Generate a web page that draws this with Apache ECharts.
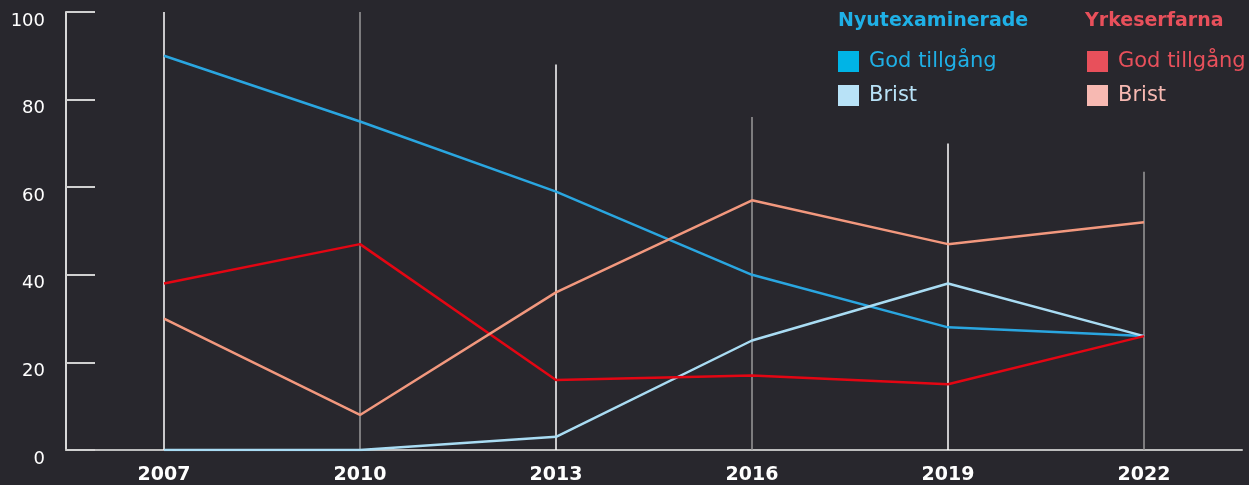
<!DOCTYPE html>
<html>
<head>
<meta charset="utf-8">
<script src="https://cdn.jsdelivr.net/npm/echarts@6/dist/echarts.min.js"></script>
<style>
  html, body { margin: 0; padding: 0; background: #28272d; }
  #container { width: 1249px; height: 485px; }
</style>
</head>
<body>
<div id="container"></div>
<script>
var years = ["2007", "2010", "2013", "2016", "2019", "2022"];
var nyGod = [90, 75, 59, 40, 28, 26];
var nyBrist = [0, 0, 3, 25, 38, 26];
var yrGod = [38, 47, 16, 17, 15, 26];
var yrBrist = [30, 8, 36, 57, 47, 52];
// heights of the thin vertical guide lines
var guides = [100, 100, 88, 76, 70, 63.5];

var dom = document.getElementById("container");
var myChart = echarts.init(dom, null, { renderer: "canvas" });

var font = "DejaVu Sans";

function lineSeries(name, data, color) {
  return {
    name: name,
    type: "line",
    data: data,
    symbol: "none",
    z: 5,
    lineStyle: { color: color, width: 2.5 },
    itemStyle: { color: color },
  };
}

function legendBlock(left, items) {
  return {
    orient: "vertical",
    left: left,
    top: 51,
    padding: 0,
    itemWidth: 21,
    itemHeight: 21,
    itemGap: 13,
    icon: "rect",
    formatter: function (n) { return n.split(" - ")[1]; },
    textStyle: { fontFamily: font, fontSize: 21, padding: [2, 0, 0, 5] },
    data: items,
  };
}

var option = {
  backgroundColor: "#28272d",
  animation: false,
  grid: { left: 66, right: 7, top: 12, bottom: 35 },
  graphic: [
    {
      type: "text",
      left: 838,
      top: 12,
      style: { text: "Nyutexaminerade", fill: "#1fb0e6", font: "bold 19px 'DejaVu Sans'" },
    },
    {
      type: "text",
      left: 1085,
      top: 12,
      style: { text: "Yrkeserfarna", fill: "#e8505b", font: "bold 19px 'DejaVu Sans'" },
    },
  ],
  legend: [
    legendBlock(838, [
      { name: "Nyutexaminerade - God tillgång", itemStyle: { color: "#00b4e6" }, textStyle: { color: "#1fb0e6" } },
      { name: "Nyutexaminerade - Brist", itemStyle: { color: "#b8e2f7" }, textStyle: { color: "#b8e2f7" } },
    ]),
    legendBlock(1087, [
      { name: "Yrkeserfarna - God tillgång", itemStyle: { color: "#e8505b" }, textStyle: { color: "#e8505b" } },
      { name: "Yrkeserfarna - Brist", itemStyle: { color: "#f7b9b2" }, textStyle: { color: "#f7b9b2" } },
    ]),
  ],
  xAxis: {
    type: "category",
    data: years,
    boundaryGap: true,
    axisLine: { lineStyle: { color: "#bdbdbd", width: 2 } },
    axisTick: { show: false },
    axisLabel: {
      color: "#ffffff",
      fontFamily: font,
      fontWeight: "bold",
      fontSize: 19,
      margin: 16,
    },
    splitLine: { show: false },
  },
  yAxis: {
    type: "value",
    min: 0,
    max: 100,
    interval: 20,
    axisLine: { show: true, lineStyle: { color: "#d8d8d8", width: 2 } },
    axisTick: { show: true, inside: true, length: 29, lineStyle: { color: "#d0d0d0", width: 2 } },
    axisLabel: {
      color: "#ffffff",
      fontFamily: font,
      fontSize: 18,
      margin: 21,
      verticalAlign: "top",
    },
    splitLine: { show: false },
  },
  series: [
    {
      name: "guides",
      type: "bar",
      data: guides,
      barWidth: 1.5,
      z: 1,
      itemStyle: {
        color: function (p) { return p.dataIndex % 2 === 0 ? "#ffffff" : "#9a9a9a"; },
      },
      silent: true,
    },
    lineSeries("Nyutexaminerade - God tillgång", nyGod, "#2aa6e0"),
    lineSeries("Nyutexaminerade - Brist", nyBrist, "#a9dcf3"),
    lineSeries("Yrkeserfarna - God tillgång", yrGod, "#e30613"),
    lineSeries("Yrkeserfarna - Brist", yrBrist, "#f2987e"),
  ],
};

myChart.setOption(option);
window.addEventListener("resize", myChart.resize);
</script>
</body>
</html>
